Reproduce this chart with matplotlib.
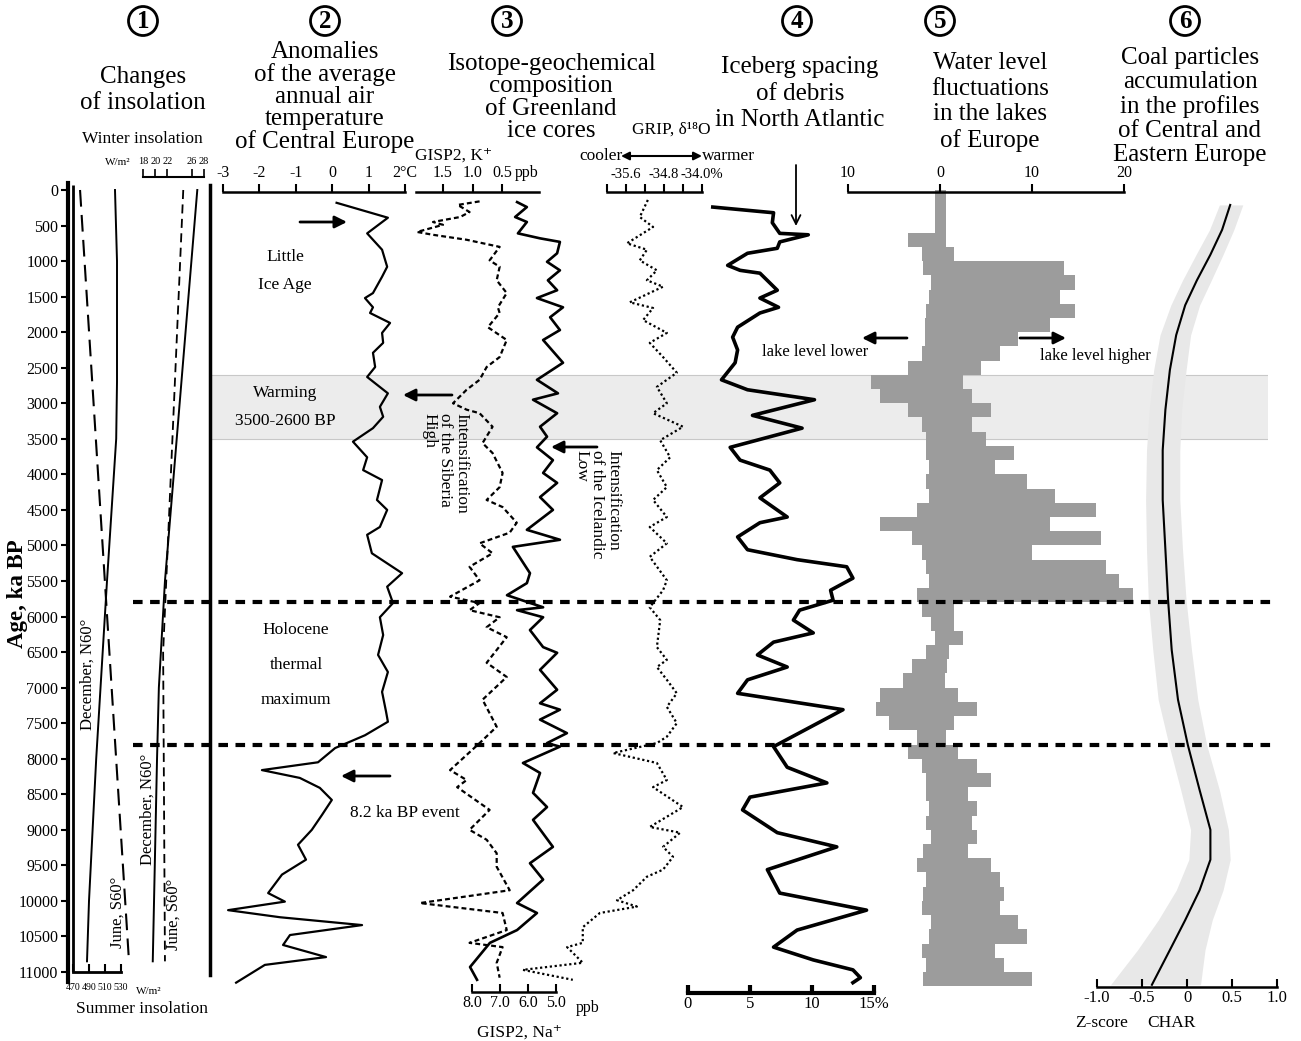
import numpy as np
import matplotlib.pyplot as plt
from matplotlib.patches import FancyArrowPatch

plt.rcParams['font.family'] = ['Liberation Serif', 'DejaVu Serif']

# ---------------------------------------------------------------- data
age_ticks = np.arange(0, 11001, 500)

# 1 - insolation, W/m2 (summer on the lower scale, winter on the upper scale)
summer_ticks = [470, 490, 510, 530]
summer_dash_age = [0, 10850]
summer_dash = [478.8, 540.0]
summer_solid_age = [0, 1000, 2700, 3500, 5500, 8000, 10000, 10850]
summer_solid = [522.5, 525.0, 525.0, 524.0, 512.5, 499.0, 490.0, 487.5]
winter_ticks = [18, 20, 22, 26, 28]
winter_dash_age = [0, 6500, 10850]
winter_dash = [24.6, 21.3, 21.6]
winter_solid_age = [0, 5500, 7000, 8000, 10850]
winter_solid = [26.9, 21.6, 20.6, 20.3, 19.6]

# 2 - air temperature anomaly, deg C
temp_age = [180, 390, 610, 840, 1080, 1220, 1450, 1520, 1650, 1730,
            1870, 2010, 2150, 2290, 2490, 2630, 2860, 3050, 3190, 3350,
            3540, 3760, 3940, 4080, 4360, 4500, 4740, 4850, 5110, 5390,
            5580, 5810, 6010, 6260, 6540, 6780, 7060, 7340, 7480, 7670,
            7850, 8050, 8160, 8270, 8410, 8580, 8790, 9000, 9210, 9420,
            9630, 9890, 10010, 10130, 10230, 10340, 10480, 10620, 10790, 10900,
            11150]
temp = [0.12, 1.53, 0.96, 1.37, 1.51, 1.37, 1.12, 0.90, 1.12, 1.04,
        1.59, 1.37, 1.40, 1.12, 1.18, 0.96, 1.53, 1.31, 1.40, 1.12,
        0.57, 0.96, 0.85, 1.37, 1.23, 1.51, 1.31, 0.96, 1.09, 1.92,
        1.51, 1.67, 1.31, 1.40, 1.26, 1.53, 1.37, 1.48, 1.53, 0.90,
        0.08, -0.39, -1.93, -0.89, -0.34, -0.01, -0.28, -0.56, -0.94, -0.72,
        -1.38, -1.76, -1.30, -2.86, -1.43, 0.82, -1.16, -1.35, -0.17, -1.85,
        -2.64]

# 3 - GISP2 K+ (ppb), GISP2 Na+ (ppb), GRIP d18O (permil)
k_age = [160, 210, 310, 380, 450, 490, 590, 630, 700, 800,
         990, 1080, 1270, 1450, 1650, 1730, 1930, 2110, 2350, 2490,
         2670, 2810, 3000, 3090, 3140, 3330, 3560, 3700, 3980, 4180,
         4360, 4460, 4680, 4820, 4970, 5110, 5300, 5490, 5720, 5810,
         5910, 6010, 6150, 6290, 6470, 6650, 6850, 7170, 7550, 7780,
         8160, 8300, 8400, 8720, 9000, 9140, 9330, 9520, 9850, 10030,
         10170, 10410, 10590, 10650, 10870, 11080]
k_val = [0.88, 1.25, 1.05, 1.21, 1.67, 1.50, 1.94, 1.67, 1.10, 0.54,
         0.71, 0.54, 0.59, 0.42, 0.57, 0.54, 0.74, 0.42, 0.54, 0.76,
         0.88, 1.10, 1.33, 1.10, 0.88, 0.66, 0.83, 0.66, 0.49, 0.54,
         0.76, 0.49, 0.25, 0.37, 0.88, 0.66, 1.05, 0.88, 1.38, 0.88,
         1.05, 0.54, 0.76, 0.42, 0.59, 0.76, 0.42, 0.83, 0.59, 0.88,
         1.38, 1.10, 1.26, 0.71, 1.05, 0.76, 0.59, 0.59, 0.37, 1.89,
         0.49, 0.42, 1.05, 0.49, 0.59, 0.54]
na_age = [170, 240, 380, 450, 610, 680, 730, 890, 1010, 1130,
          1270, 1410, 1520, 1650, 1790, 1970, 2110, 2430, 2670, 2860,
          2950, 3140, 3330, 3470, 3620, 3800, 3980, 4120, 4320, 4500,
          4780, 4920, 5020, 5390, 5530, 5700, 5870, 5910, 6010, 6190,
          6430, 6510, 6750, 7030, 7220, 7310, 7450, 7640, 7780, 7830,
          8060, 8200, 8480, 8680, 8860, 9240, 9470, 9700, 10030, 10170,
          10410, 10590, 10930, 11110]
na_val = [6.39, 6.04, 6.46, 6.04, 6.36, 5.57, 4.86, 4.96, 5.32, 4.86,
          5.29, 4.96, 5.68, 4.75, 5.21, 4.86, 5.46, 4.75, 5.68, 4.93,
          5.82, 4.96, 5.57, 5.32, 5.68, 5.11, 5.46, 4.96, 5.57, 5.11,
          6.04, 4.86, 6.54, 5.93, 6.04, 6.75, 5.46, 6.39, 5.46, 5.93,
          5.46, 4.96, 5.57, 4.96, 5.57, 4.86, 5.57, 4.61, 5.32, 4.86,
          6.18, 5.57, 5.82, 5.32, 5.82, 5.11, 5.93, 5.46, 6.39, 5.68,
          6.39, 7.36, 8.07, 7.82]
grip_age = [140, 380, 520, 750, 840, 990, 1130, 1270, 1360, 1580,
            1660, 1830, 2010, 2150, 2350, 2570, 2770, 3000, 3140, 3330,
            3520, 3760, 3940, 4180, 4360, 4600, 4740, 4970, 5160, 5490,
            5630, 5870, 6050, 6430, 6610, 6710, 6890, 7080, 7270, 7500,
            7690, 7780, 7920, 8060, 8300, 8400, 8680, 8960, 9040, 9240,
            9380, 9560, 9660, 9850, 9990, 10080, 10170, 10370, 10590, 10650,
            10870, 10970, 11110]
grip_val = [-35.14, -35.31, -35.03, -35.58, -35.16, -35.31, -34.95, -35.16, -34.82, -35.52,
            -35.03, -35.24, -34.74, -35.10, -34.82, -34.53, -34.95, -34.74, -35.03, -34.40,
            -34.88, -34.67, -34.95, -34.74, -35.03, -34.74, -35.10, -34.74, -35.10, -34.74,
            -34.82, -35.10, -34.88, -34.95, -34.74, -34.95, -34.74, -34.53, -34.74, -34.53,
            -34.74, -34.95, -35.87, -34.95, -34.74, -35.03, -34.40, -35.10, -34.46, -34.82,
            -34.61, -34.82, -35.16, -35.45, -35.79, -35.37, -36.15, -36.51, -36.51, -36.84,
            -36.51, -37.77, -36.72]

# 4 - ice rafted debris, %
ice_age = [240, 320, 460, 610, 630, 730, 820, 890, 1060, 1130,
           1170, 1410, 1520, 1650, 1730, 1930, 2070, 2250, 2430, 2670,
           2810, 2950, 3170, 3350, 3620, 3800, 3940, 4120, 4330, 4600,
           4680, 4880, 5060, 5200, 5300, 5460, 5630, 5770, 5910, 6050,
           6230, 6360, 6540, 6710, 6890, 7080, 7310, 7830, 8120, 8340,
           8540, 8720, 9040, 9240, 9560, 9890, 10130, 10410, 10650, 10830,
           10970, 11080, 11150]
ice_val = [2.0, 6.9, 6.8, 7.4, 9.7, 7.4, 7.2, 4.8, 3.2, 4.2,
           5.8, 7.2, 5.8, 7.3, 5.8, 4.0, 3.6, 4.0, 3.8, 2.7,
           4.8, 10.2, 5.2, 9.2, 3.4, 4.2, 6.6, 7.4, 5.8, 8.0,
           5.8, 4.0, 4.8, 8.8, 12.8, 13.3, 11.5, 11.7, 9.0, 8.5,
           10.1, 6.9, 5.6, 8.0, 4.8, 4.0, 12.5, 6.9, 8.0, 11.2,
           5.0, 4.4, 7.2, 12.0, 6.4, 7.4, 14.4, 8.8, 6.9, 10.1,
           13.3, 13.9, 13.3]

# 5 - number of lakes with lower / higher water level, 200-yr bins
lake_bin = 200
lake_start = np.arange(0, 11200, lake_bin)
lake_lower = [0.5, 0.5, 0.5, 3.5, 2.0, 1.8, 1.0, 1.2, 1.5, 1.6,
              1.6, 2.0, 3.5, 7.5, 6.5, 3.5, 2.0, 1.5, 1.5, 1.2,
              1.5, 1.2, 2.5, 6.5, 3.0, 2.0, 1.5, 1.2, 2.5, 2.0,
              1.0, 0.5, 1.5, 3.0, 4.0, 6.5, 7.0, 5.5, 2.5, 3.5,
              2.0, 1.5, 1.5, 1.2, 1.5, 1.0, 1.8, 2.5, 1.5, 1.8,
              2.0, 1.0, 1.2, 2.0, 1.5, 1.8]
lake_higher = [0.6, 0.6, 0.7, 0.7, 1.5, 13.5, 14.7, 13.0, 14.7, 12.0,
               8.5, 6.5, 4.5, 2.5, 3.5, 5.5, 3.5, 5.0, 8.0, 6.0,
               9.5, 12.5, 17.0, 12.0, 17.5, 10.0, 18.0, 19.5, 21.0, 1.5,
               1.5, 2.5, 1.0, 0.8, 0.5, 2.0, 4.0, 1.5, 0.7, 2.0,
               4.0, 5.5, 3.0, 4.0, 3.5, 4.0, 3.0, 5.5, 6.5, 7.0,
               6.5, 8.5, 9.5, 6.0, 7.0, 10.0]

# 6 - charcoal accumulation, Z-score with its envelope
char_age = [210, 560, 910, 1270, 1620, 2040, 2530, 3090, 3660, 4360, 5060,
            5770, 6470, 7170, 7810, 8440, 9000, 9420, 9850, 10270, 10690, 11180]
char_z = [0.48, 0.39, 0.26, 0.11, -0.02, -0.12, -0.19, -0.24, -0.27, -0.27, -0.24,
          -0.21, -0.17, -0.10, 0.01, 0.14, 0.26, 0.26, 0.14, -0.02, -0.19, -0.39]
char_lo = [0.36, 0.25, 0.10, -0.05, -0.18, -0.30, -0.37, -0.42, -0.45, -0.46, -0.45,
           -0.43, -0.38, -0.32, -0.20, -0.07, 0.04, 0.02, -0.12, -0.32, -0.55, -0.85]
char_hi = [0.62, 0.52, 0.40, 0.27, 0.14, 0.04, -0.01, -0.06, -0.08, -0.08, -0.05,
           -0.01, 0.05, 0.12, 0.22, 0.36, 0.46, 0.48, 0.40, 0.28, 0.20, 0.15]

warming = (2600, 3500)
boundaries = [5800, 7800]

# ---------------------------------------------------------------- layout
W, H = 1301, 1041
fig = plt.figure(figsize=(W / 100, H / 100), dpi=100)

PX_AGE0, PX_AGE_END = 190, 972
AGE_PER_PX = 11000 / (PX_AGE_END - PX_AGE0)
AX_TOP, AX_BOT = 150, 1005


def age_at(py):
    return (py - PX_AGE0) * AGE_PER_PX


def panel(x0, x1, a, b, zorder=1):
    (pa, va), (pb, vb) = a, b
    k = (vb - va) / (pb - pa)
    ax = fig.add_axes([x0 / W, 1 - AX_BOT / H, (x1 - x0) / W, (AX_BOT - AX_TOP) / H],
                      zorder=zorder)
    ax.set_xlim(va + (x0 - pa) * k, va + (x1 - pa) * k)
    ax.set_ylim(age_at(AX_BOT), age_at(AX_TOP))
    ax.patch.set_visible(False)
    for s in ax.spines.values():
        s.set_visible(False)
    ax.set_xticks([])
    ax.set_yticks([])
    return ax


def scale(ax, side, py, lo, hi, ticks, labels, size=11.5, lw=1.8, tw=1.5, pad=2):
    sp = ax.spines[side]
    sp.set_visible(True)
    sp.set_position(('data', age_at(py)))
    sp.set_bounds(lo, hi)
    sp.set_linewidth(lw)
    ax.xaxis.set_ticks_position(side)
    ax.set_xticks(ticks, labels)
    ax.tick_params(axis='x', direction='out' if side == 'top' else 'in',
                   length=6, width=tw, labelsize=size, pad=pad)


def ftext(px, py, s, **kw):
    kw.setdefault('ha', 'center')
    kw.setdefault('va', 'center')
    return fig.text(px / W, 1 - py / H, s, **kw)


def title(px, py, lines, pitch, size=18):
    for i, line in enumerate(lines):
        ftext(px, py + i * pitch, line, fontsize=size)


def farrow(p0, p1, style='-|>', lw=2.0, ms=18):
    fig.add_artist(FancyArrowPatch((p0[0] / W, 1 - p0[1] / H), (p1[0] / W, 1 - p1[1] / H),
                                   transform=fig.transFigure, arrowstyle=style,
                                   mutation_scale=ms, lw=lw, color='k',
                                   shrinkA=0, shrinkB=0))


# shaded warming interval
bg = panel(212, 1268, (212, 0), (1268, 1), zorder=0)
bg.axhspan(*warming, color='#ececec', lw=0)
for a in warming:
    bg.axhline(a, color='#c8c8c8', lw=0.8)

# 1 - insolation
ax1 = panel(68, 210, (73, 470), (121, 530))
ax1.spines['left'].set_visible(True)
ax1.spines['left'].set_linewidth(3)
ax1.spines['left'].set_bounds(age_at(183), age_at(982))
ax1.spines['right'].set_visible(True)
ax1.spines['right'].set_linewidth(2.5)
ax1.spines['right'].set_bounds(age_at(185), age_at(975))
ax1.set_yticks(age_ticks, [str(a) for a in age_ticks])
ax1.tick_params(axis='y', direction='out', length=5, width=1.5, labelsize=11.5, pad=2)
scale(ax1, 'bottom', PX_AGE_END, summer_ticks[0], summer_ticks[-1], summer_ticks,
      [str(t) for t in summer_ticks], size=7, lw=2, pad=8)
ax1.vlines(summer_ticks[0], age_at(185), age_ticks[-1], color='k', lw=2)
ax1.plot(summer_dash, summer_dash_age, color='k', lw=1.5, dashes=(8, 4))
ax1.plot(summer_solid, summer_solid_age, color='k', lw=1.4)

ax1w = panel(68, 210, (143, 18), (204, 28))
scale(ax1w, 'top', 177, winter_ticks[0], winter_ticks[-1], winter_ticks,
      [str(t) for t in winter_ticks], size=7.5, lw=1.5, tw=1.2)
ax1w.plot(winter_dash, winter_dash_age, color='k', lw=1.3, dashes=(5, 3))
ax1w.plot(winter_solid, winter_solid_age, color='k', lw=1.4)

# 2 - temperature anomaly
ax2 = panel(210, 415, (223, -3), (405, 2))
t_ticks = [-3, -2, -1, 0, 1, 2]
scale(ax2, 'top', 192, -3, 2, t_ticks, ['-3', '-2', '-1', '0', '1', '2°C'])
ax2.plot(temp, temp_age, color='k', lw=1.6)

# 3 - Greenland ice cores
ax3k = panel(415, 705, (443, 1.5), (502, 0.5))
scale(ax3k, 'top', 192, 1.95, -0.12, [1.5, 1.0, 0.5], ['1.5', '1.0', '0.5'])
ax3k.plot(k_val, k_age, color='k', lw=1.6, dashes=(2.2, 1.4))

ax3n = panel(415, 705, (472, 8.0), (556, 5.0))
scale(ax3n, 'bottom', 992, 8.0, 5.0, [8.0, 7.0, 6.0, 5.0], ['8.0', '7.0', '6.0', '5.0'])
ax3n.plot(na_val, na_age, color='k', lw=1.9)

ax3g = panel(415, 705, (607, -36.0), (702, -34.0))
g_ticks = [-36.0, -35.6, -35.2, -34.8, -34.4, -34.0]
scale(ax3g, 'top', 192, -36.0, -34.0, g_ticks, ['', '-35.6', '', '-34.8', '', '-34.0%'], size=10.5)
ax3g.plot(grip_val, grip_age, color='k', lw=1.6, linestyle=(0, (1, 1.2)))

# 4 - ice rafted debris
ax4 = panel(680, 895, (688, 0), (874, 15))
scale(ax4, 'bottom', 993, 0, 15, [0, 5, 10, 15], ['0', '5', '10', '15%'], size=12, lw=3, tw=3)
ax4.plot(ice_val, ice_age, color='k', lw=2.6, solid_joinstyle='round')

# 5 - lake levels
ax5 = panel(840, 1145, (940, 0), (1124, 20))
scale(ax5, 'top', 192, -10, 20, [-10, 0, 10, 20], ['10', '0', '10', '20'])
centres = lake_start + lake_bin / 2
ax5.barh(centres, lake_higher, height=lake_bin, color='#9c9c9c', lw=0)
ax5.barh(centres, -np.asarray(lake_lower), height=lake_bin, color='#9c9c9c', lw=0)

# 6 - charcoal
ax6 = panel(1090, 1290, (1097, -1.0), (1277, 1.0))
scale(ax6, 'bottom', 987, -1.0, 1.0, [-1.0, -0.5, 0, 0.5, 1.0],
      ['-1.0', '-0.5', '0', '0.5', '1.0'], size=12)
ax6.fill_betweenx(char_age, char_lo, char_hi, color='#e8e8e8', lw=0)
ax6.plot(char_z, char_age, color='k', lw=1.5)

# stage boundaries on top of everything
top = panel(133, 1272, (133, 0), (1272, 1), zorder=5)
for a in boundaries:
    top.axhline(a, color='k', lw=3, dashes=(2.3, 1.8))

# ---------------------------------------------------------------- texts
for x, n in zip([143, 325, 507, 797, 940, 1185], '123456'):
    ftext(x, 21, n, fontsize=18, fontweight='bold',
          bbox=dict(boxstyle='circle,pad=0.12', fc='white', ec='k', lw=2))
title(143, 77, ['Changes', 'of insolation'], 26)
title(325, 52, ['Anomalies', 'of the average', 'annual air', 'temperature', 'of Central Europe'], 22.5)
title(551, 64, ['Isotope-geochemical', 'composition', 'of Greenland', 'ice cores'], 22.3)
title(800, 67, ['Iceberg spacing', 'of debris', 'in North Atlantic'], 26.5)
title(990, 63, ['Water level', 'fluctuations', 'in the lakes', 'of Europe'], 25.7)
title(1190, 58, ['Coal particles', 'accumulation', 'in the profiles', 'of Central and',
                 'Eastern Europe'], 24.2)

ftext(18, 594, 'Age, ka BP', fontsize=16.5, fontweight='bold', rotation=90)

ftext(142, 139, 'Winter insolation', fontsize=12.5)
ftext(118, 162, 'W/m²', fontsize=8)
ftext(142, 1009, 'Summer insolation', fontsize=12.5)
ftext(149, 992, 'W/m²', fontsize=8)
ftext(88, 674, 'December, N60°', fontsize=12, rotation=90)
ftext(118, 912, 'June, S60°', fontsize=12, rotation=90)
ftext(148, 809, 'December, N60°', fontsize=12, rotation=90)
ftext(174, 914, 'June, S60°', fontsize=12, rotation=90)

ftext(454, 156, 'GISP2, K⁺', fontsize=12.5)
ftext(527, 173, 'ppb', fontsize=11.5)
ftext(519, 1033, 'GISP2, Na⁺', fontsize=12.5)
ftext(588, 1008, 'ppb', fontsize=11.5)
ftext(671, 130, 'GRIP, δ¹⁸O', fontsize=12.5)
ftext(601, 156, 'cooler', fontsize=12.5)
ftext(728, 156, 'warmer', fontsize=12.5)
farrow((621, 156), (702, 156), style='<|-|>', lw=1.5, ms=12)

ftext(1102, 1023, 'Z-score', fontsize=12.5)
ftext(1171, 1023, 'CHAR', fontsize=12.5)

ftext(285, 257, 'Little', fontsize=12.5)
ftext(285, 285, 'Ice Age', fontsize=12.5)
ftext(285, 393, 'Warming', fontsize=12.5)
ftext(285, 421, '3500-2600 BP', fontsize=12.5)
ftext(296, 630, 'Holocene', fontsize=12.5)
ftext(296, 665, 'thermal', fontsize=12.5)
ftext(296, 700, 'maximum', fontsize=12.5)
ftext(405, 813, '8.2 ka BP event', fontsize=12.5)
farrow((300, 222), (347, 222))
farrow((452, 395), (403, 395))
farrow((390, 776), (341, 776))

ftext(445, 413, 'Intensification\nof the Siberia\nHigh', fontsize=12.5, rotation=270,
      va='top', multialignment='left', linespacing=1.0)
ftext(597, 450, 'Intensification\nof the Icelandic\nLow', fontsize=12.5, rotation=270,
      va='top', multialignment='left', linespacing=1.0)
farrow((597, 447), (551, 447))

farrow((796, 165), (796, 226), style='->', lw=1.3, ms=16)

ftext(815, 352, 'lake level lower', fontsize=12)
ftext(1095, 356, 'lake level higher', fontsize=12)
farrow((907, 338), (862, 338))
farrow((1020, 338), (1066, 338))

fig.savefig('out.png', dpi=100)
